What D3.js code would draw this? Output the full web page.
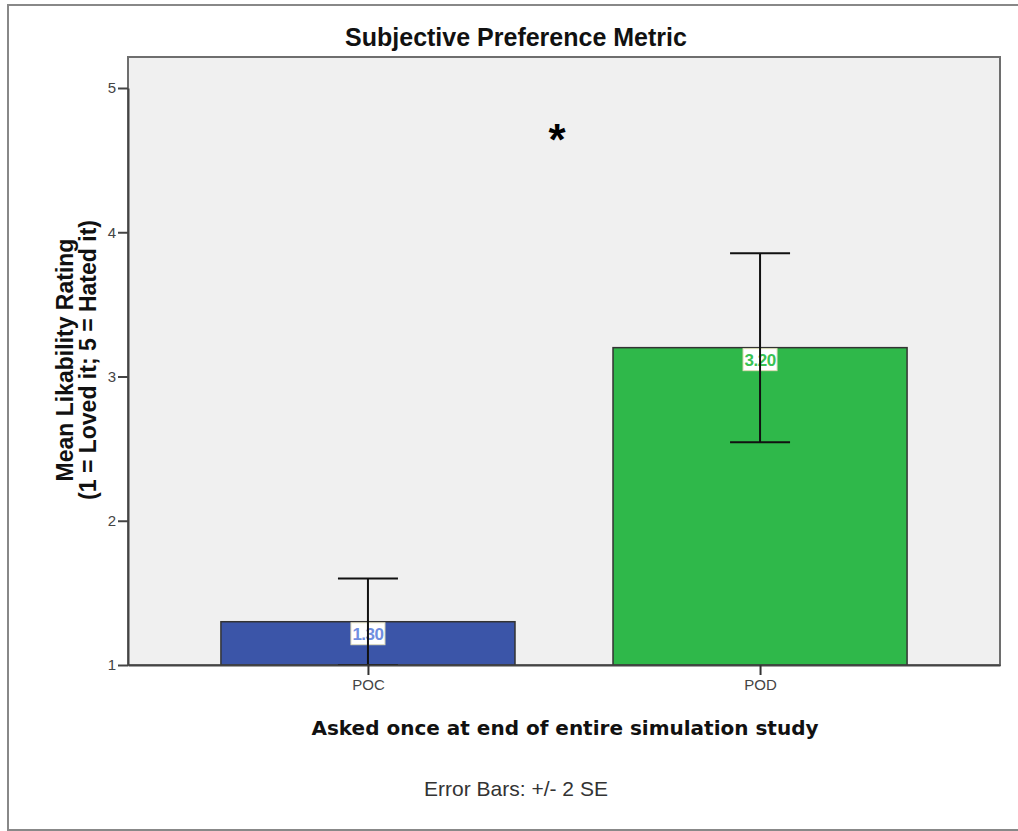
<!DOCTYPE html>
<html>
<head>
<meta charset="utf-8">
<script src="https://cdn.jsdelivr.net/npm/d3@7"></script>
<style>
  body { margin: 0; background: #fff; overflow: hidden; }
  svg { display: block; font-family: "Liberation Sans", Arial, sans-serif; }
</style>
</head>
<body>
<div id="chart"></div>
<script>
const categories = ["POC", "POD"];
const means = [1.30, 3.20];
const errLow = [1.00, 2.545];
const errHigh = [1.60, 3.855];
const barColors = ["#3b55a8", "#2fb84a"];
const labelColors = ["#6f8ee0", "#39c253"];
const yTicks = [1, 2, 3, 4, 5];

const width = 1018, height = 831;
const margin = { top: 57, right: 18, bottom: 166, left: 128 };

const svg = d3.select("#chart").append("svg").attr("width", width).attr("height", height);

// outer frame
svg.append("rect").attr("x", 8).attr("y", 5).attr("width", 1030).attr("height", 825)
  .attr("fill", "#fff").attr("stroke", "#888").attr("stroke-width", 2);

const x = d3.scalePoint().domain(categories).range([margin.left, width - margin.right]).padding(0.612);
const y = d3.scaleLinear().domain([1, 5]).range([height - margin.bottom, 88]);
const barW = x.step() * 0.75;
const plotBottom = height - margin.bottom;

// plot background
svg.append("rect").attr("x", margin.left).attr("y", margin.top)
  .attr("width", width - margin.right - margin.left).attr("height", plotBottom - margin.top)
  .attr("fill", "#f0f0f0").attr("stroke", "#6e6e6e").attr("stroke-width", 2);

// bars
svg.selectAll("rect.bar").data(categories).join("rect").attr("class", "bar")
  .attr("x", (d) => x(d) - barW / 2).attr("y", (d, i) => y(means[i]))
  .attr("width", barW).attr("height", (d, i) => plotBottom - y(means[i]))
  .attr("fill", (d, i) => barColors[i]).attr("stroke", "#333").attr("stroke-width", 1.5);

// value labels
categories.forEach((c, i) => {
  const g = svg.append("g").attr("transform", `translate(${x(c)},${y(means[i]) + 12})`);
  g.append("rect").attr("x", -17).attr("y", -11).attr("width", 34).attr("height", 22)
    .attr("fill", "#fff").attr("stroke", "#e0dcb8").attr("stroke-width", 1);
  g.append("text").attr("text-anchor", "middle").attr("dy", "0.36em").attr("font-size", 17)
    .attr("font-weight", "bold").attr("letter-spacing", -0.5)
    .attr("fill", labelColors[i]).text(means[i].toFixed(2));
});

// error bars
const cap = 30;
categories.forEach((c, i) => {
  const cx = x(c);
  const g = svg.append("g").attr("stroke", "#111").attr("stroke-width", 2);
  g.append("line").attr("x1", cx).attr("x2", cx).attr("y1", y(errLow[i])).attr("y2", y(errHigh[i]));
  g.append("line").attr("x1", cx - cap).attr("x2", cx + cap).attr("y1", y(errHigh[i])).attr("y2", y(errHigh[i]));
  g.append("line").attr("x1", cx - cap).attr("x2", cx + cap).attr("y1", y(errLow[i])).attr("y2", y(errLow[i]));
});

// axes
const yAxis = svg.append("g").attr("transform", `translate(${margin.left},0)`)
  .call(d3.axisLeft(y).tickValues(yTicks).tickSize(10).tickSizeOuter(0).tickPadding(2).tickFormat(d3.format("d")));
yAxis.select(".domain").attr("stroke", "#444").attr("stroke-width", 2);
yAxis.selectAll(".tick line").attr("stroke", "#444").attr("stroke-width", 2);
yAxis.selectAll("text").attr("fill", "#444").attr("font-size", 15).attr("font-family", "Liberation Sans, Arial, sans-serif");

const xAxis = svg.append("g").attr("transform", `translate(0,${plotBottom})`)
  .call(d3.axisBottom(x).tickSize(10).tickSizeOuter(0).tickPadding(4));
xAxis.select(".domain").attr("stroke", "#444").attr("stroke-width", 2);
xAxis.selectAll(".tick line").attr("stroke", "#333").attr("stroke-width", 2);
xAxis.selectAll("text").attr("fill", "#444").attr("font-size", 15).attr("font-family", "Liberation Sans, Arial, sans-serif");

// titles
svg.append("text").attr("x", 516).attr("y", 46).attr("text-anchor", "middle")
  .attr("font-size", 25).attr("font-weight", "bold").attr("fill", "#111").text("Subjective Preference Metric");

svg.append("text").attr("x", 557).attr("y", 155).attr("text-anchor", "middle")
  .attr("font-size", 44).attr("font-weight", "bold").attr("fill", "#000").text("*");

svg.append("text").attr("x", 565).attr("y", 735).attr("text-anchor", "middle")
  .attr("font-family", "DejaVu Sans, sans-serif").attr("font-size", 20).attr("font-weight", "bold")
  .attr("fill", "#111").text("Asked once at end of entire simulation study");

svg.append("text").attr("x", 516).attr("y", 796).attr("text-anchor", "middle")
  .attr("font-size", 21).attr("fill", "#333").text("Error Bars: +/- 2 SE");

const yt = svg.append("text").attr("text-anchor", "middle")
  .attr("font-size", 23).attr("font-weight", "bold").attr("fill", "#111")
  .attr("transform", "rotate(-90)");
yt.append("tspan").attr("x", -360).attr("y", 73).text("Mean Likability Rating");
yt.append("tspan").attr("x", -360).attr("y", 96).text("(1 = Loved it; 5 = Hated it)");
</script>
</body>
</html>
